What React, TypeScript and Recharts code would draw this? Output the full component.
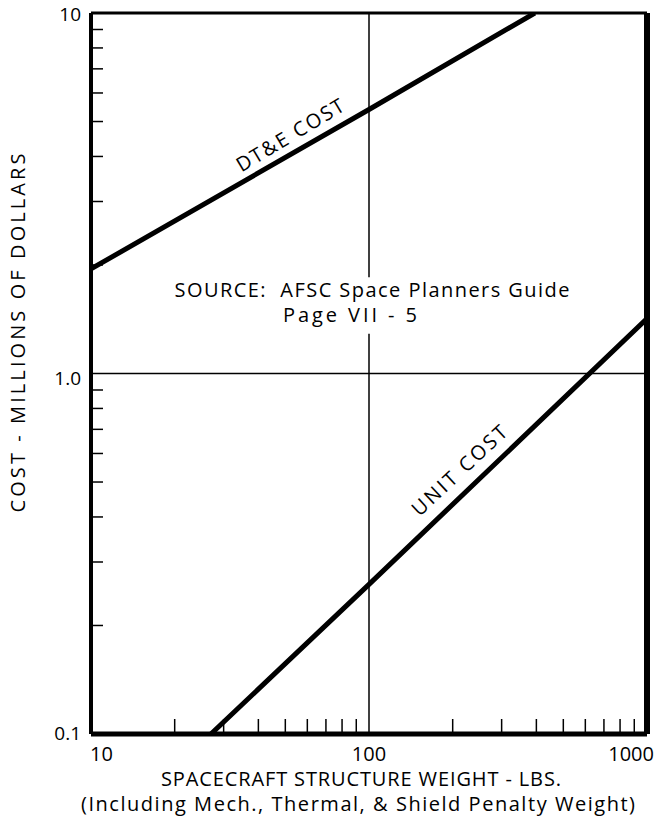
import React from 'react';
import { LineChart, Line, XAxis, YAxis, ReferenceLine, ReferenceDot, Label } from 'recharts';

// weight in lbs, cost in millions of dollars
const dteWeight = [10, 100, 395];
const dteCost = [1.95, 5.4, 10];
const unitWeight = [27, 100, 1000];
const unitCost = [0.1, 0.26, 1.42];

const weightTicks = [10, 20, 30, 40, 50, 60, 70, 80, 90, 100, 200, 300, 400, 500, 600, 700, 800, 900, 1000];
const costTicks = [0.1, 0.2, 0.3, 0.4, 0.5, 0.6, 0.7, 0.8, 0.9, 1, 2, 3, 4, 5, 6, 7, 8, 9, 10];
const weightLabels: Record<number, string> = { 10: '10', 100: '100', 1000: '1000' };
const costLabels: Record<number, string> = { 0.1: '0.1', 1: '1.0', 10: '10' };

const dteData = dteWeight.map((x, i) => ({ x, y: dteCost[i] }));
const unitData = unitWeight.map((x, i) => ({ x, y: unitCost[i] }));

const FONT = '"Open Sans", sans-serif';
const INK = '#000';

const XTick = (props: any) => {
  const { x, y, payload } = props;
  const label = weightLabels[payload.value];
  if (!label) {
    return <line x1={x} x2={x} y1={y} y2={y - 15} stroke={INK} strokeWidth={1.5} />;
  }
  const anchor = payload.value === 10 ? 'start' : payload.value === 1000 ? 'end' : 'middle';
  const dx = payload.value === 10 ? -1 : payload.value === 1000 ? 7 : 0;
  return (
    <text x={x + dx} y={y + 27} textAnchor={anchor} fontFamily={FONT} fontSize={20} fill={INK}>
      {label}
    </text>
  );
};

const YTick = (props: any) => {
  const { x, y, payload } = props;
  const label = costLabels[payload.value];
  if (!label) {
    return <line x1={x} x2={x + 12} y1={y} y2={y} stroke={INK} strokeWidth={1.5} />;
  }
  const dy = payload.value === 1 ? 11 : payload.value === 10 ? 8 : 6;
  return (
    <text x={x - 10} y={y + dy} textAnchor="end" fontFamily={FONT} fontSize={19} fill={INK}>
      {label}
    </text>
  );
};

const XTitle = (props: any) => {
  const { viewBox } = props;
  const cx = viewBox.x + viewBox.width / 2 - 8;
  return (
    <g fontFamily={FONT} fill={INK} fontSize={20}>
      <text x={cx} y={786} textAnchor="middle" textLength={400} lengthAdjust="spacing">
        SPACECRAFT STRUCTURE WEIGHT - LBS.
      </text>
      <text x={cx - 3} y={811} textAnchor="middle" textLength={554} lengthAdjust="spacing">
        (Including Mech., Thermal, &amp; Shield Penalty Weight)
      </text>
    </g>
  );
};

const YTitle = () => (
  <text
    x={0}
    y={0}
    transform="translate(25, 333) rotate(-90)"
    textAnchor="middle"
    fontFamily={FONT}
    fontSize={20}
    fill={INK}
    textLength={359}
    lengthAdjust="spacing"
  >
    COST - MILLIONS OF DOLLARS
  </text>
);

const lineLabel = (text: string, angle: number) => (props: any) => (
  <text
    x={props.cx}
    y={props.cy}
    transform={`rotate(${-angle}, ${props.cx}, ${props.cy})`}
    textAnchor="middle"
    fontFamily={FONT}
    fontSize={20}
    fill={INK}
    textLength={122}
    lengthAdjust="spacing"
  >
    {text}
  </text>
);

const SourceNote = (props: any) => {
  const { cx, cy } = props;
  return (
    <g fontFamily={FONT} fontSize={20} fill={INK}>
      <text x={cx} y={cy} textAnchor="middle" xmlSpace="preserve" textLength={395} lengthAdjust="spacing">
        SOURCE:  AFSC Space Planners Guide
      </text>
      <text x={cx - 22} y={cy + 25} textAnchor="middle" textLength={134} lengthAdjust="spacing">
        Page VII - 5
      </text>
    </g>
  );
};

export default function App() {
  return (
    <div style={{ position: 'absolute', left: 0, top: 0, background: '#fff' }}>
      <LineChart width={655} height={821} margin={{ top: 13, right: 8, bottom: 0, left: 0 }}>
        <XAxis
          type="number"
          dataKey="x"
          scale="log"
          domain={[10, 1000]}
          allowDataOverflow
          ticks={weightTicks}
          interval={0}
          tick={<XTick />}
          tickLine={false}
          axisLine={false}
          tickSize={0}
          tickMargin={0}
          height={87}
        >
          <Label content={<XTitle />} />
        </XAxis>
        <YAxis
          type="number"
          dataKey="y"
          scale="log"
          domain={[0.1, 10]}
          allowDataOverflow
          ticks={costTicks}
          interval={0}
          tick={<YTick />}
          tickLine={false}
          axisLine={false}
          tickSize={0}
          tickMargin={0}
          width={91}
        >
          <Label content={<YTitle />} />
        </YAxis>

        {/* gridline at 100 lbs, broken where the source note sits */}
        <ReferenceLine segment={[{ x: 100, y: 10 }, { x: 100, y: 1.85 }]} stroke={INK} strokeWidth={1.5} />
        <ReferenceLine segment={[{ x: 100, y: 1.29 }, { x: 100, y: 0.1 }]} stroke={INK} strokeWidth={1.5} />
        <ReferenceLine y={1} stroke={INK} strokeWidth={1.5} />

        <ReferenceDot x={102.5} y={1.626} r={0} shape={<SourceNote />} />
        <ReferenceDot x={53.6} y={4.41} r={0} shape={lineLabel('DT&E COST', 31)} />
        <ReferenceDot x={220} y={0.521} r={0} shape={lineLabel('UNIT COST', 43)} />

        <Line data={dteData} dataKey="y" type="linear" stroke={INK} strokeWidth={5} dot={false} isAnimationActive={false} />
        <Line data={unitData} dataKey="y" type="linear" stroke={INK} strokeWidth={5} dot={false} isAnimationActive={false} />

        <ReferenceLine x={10} stroke={INK} strokeWidth={4} />
        <ReferenceLine x={1000} stroke={INK} strokeWidth={6} />
        <ReferenceLine y={10} stroke={INK} strokeWidth={3} />
        <ReferenceLine y={0.1} stroke={INK} strokeWidth={5} />
      </LineChart>
    </div>
  );
}
